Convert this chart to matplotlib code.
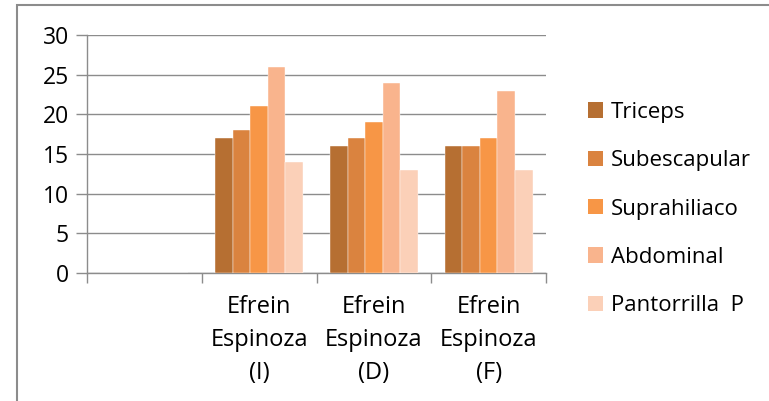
import matplotlib
matplotlib.use("Agg")
import matplotlib.pyplot as plt
import numpy as np
from matplotlib.patches import Patch, Rectangle

categories = ["", "Efrein\nEspinoza\n(I)", "Efrein\nEspinoza\n(D)", "Efrein\nEspinoza\n(F)"]
series = ["Triceps", "Subescapular", "Suprahiliaco", "Abdominal", "Pantorrilla  P"]
values = {
    "Triceps":        [0, 17, 16, 16],
    "Subescapular":   [0, 18, 17, 16],
    "Suprahiliaco":   [0, 21, 19, 17],
    "Abdominal":      [0, 26, 24, 23],
    "Pantorrilla  P": [0, 14, 13, 13],
}
colors = ["#B66F32", "#DA833F", "#F79646", "#F9B48D", "#FBD0B8"]
yticks = [0, 5, 10, 15, 20, 25, 30]

plt.rcParams['font.family'] = ['Open Sans', 'DejaVu Sans']
W, H = 769, 401
fig = plt.figure(figsize=(W/100, H/100), dpi=100)
ax = fig.add_axes([87/W, 1-273/H, (546-87)/W, (273-35)/H])

n = len(series)
bw = 0.153
x = np.arange(len(categories))
for i, s in enumerate(series):
    offs = (i - (n-1)/2) * bw
    ax.bar(x + offs, values[s], width=bw, color=colors[i], edgecolor='white', linewidth=0.3, zorder=3)

ax.set_xlim(-0.5, len(categories)-0.5)
ax.set_ylim(0, 30)
ax.set_yticks(yticks)
ax.set_yticklabels([str(v) for v in yticks], fontsize=16.5)
ax.yaxis.grid(True, color='#8c8c8c', linewidth=1.0, zorder=0)
ax.set_axisbelow(True)

ax.set_xticks(x)
ax.set_xticklabels(categories, fontsize=17, linespacing=1.5)
ax.tick_params(axis='x', length=0, pad=16)
ax.set_xticks(np.arange(len(categories)+1) - 0.5, minor=True)
ax.tick_params(axis='x', which='minor', length=7, color='#8c8c8c', width=1)
ax.tick_params(axis='y', length=8, color='#8c8c8c', width=1, pad=5)

for sp in ['top', 'right']:
    ax.spines[sp].set_visible(False)
for sp in ['left', 'bottom']:
    ax.spines[sp].set_color('#8c8c8c')
    ax.spines[sp].set_linewidth(1)

handles = [Patch(facecolor=c, edgecolor='none') for c in colors]
fig.legend(handles, series, loc='upper left', bbox_to_anchor=(579/W, 1-93/H),
           frameon=False, fontsize=16, handlelength=0.68, handleheight=0.68,
           handletextpad=0.35, labelspacing=1.23, borderaxespad=0)

fig.patches.append(Rectangle((17/W, -0.1), 1.0, (H-5)/H + 0.1, transform=fig.transFigure,
                             fill=False, edgecolor='#8c8c8c', linewidth=1.5))

fig.savefig("out.png", dpi=100)
